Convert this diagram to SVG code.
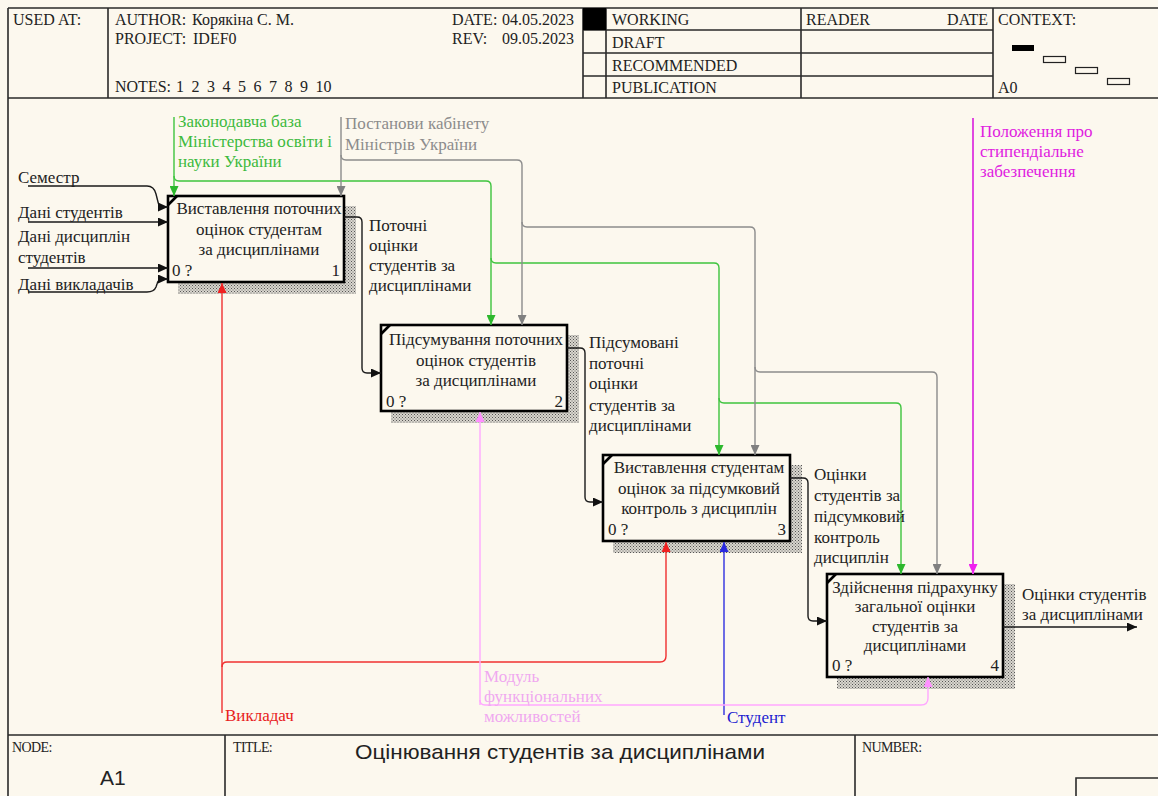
<svg xmlns="http://www.w3.org/2000/svg" width="1158" height="796" viewBox="0 0 1158 796">
  <defs>
    <style>
      .ln { fill: none; stroke: #2a2a2a; stroke-width: 1.6; }
      .hdr { font-family: 'Liberation Serif', 'Times New Roman', 'DejaVu Serif', serif; font-size: 16px; fill: #222; }
      .ft { font-family: 'Liberation Serif', 'Times New Roman', 'DejaVu Serif', serif; font-size: 14px; fill: #222; letter-spacing: -0.6px; }
      .box { fill: #FCF8EE; stroke: #000; stroke-width: 2.6; }
      .shadow { fill: url(#hatch); }
      .corner { stroke: #000; stroke-width: 2.6; }
      .bt { font-family: 'Liberation Serif', 'Times New Roman', 'DejaVu Serif', serif; font-size: 17px; fill: #222; text-anchor: middle; }
      .num { font-family: 'Liberation Serif', 'Times New Roman', 'DejaVu Serif', serif; font-size: 17px; fill: #222; }
      .lbl { font-family: 'Liberation Serif', 'Times New Roman', 'DejaVu Serif', serif; font-size: 17px; }
      .c { fill: none; stroke-width: 1.4; }
      .k { stroke: #1a1a1a; }
      .g { stroke: #3EC43E; }
      .y { stroke: #8C8C8C; }
      .m { stroke: #E048E0; stroke-width: 2; }
      .r { stroke: #F03030; }
      .b { stroke: #3030E0; }
      .p { stroke: #FFA8FF; }
    </style>
    <pattern id="hatch" width="3" height="3" patternUnits="userSpaceOnUse">
      <rect width="3" height="3" fill="#d9d6ce"/>
      <rect width="1" height="1" fill="#555"/>
      <rect x="1.5" y="1.5" width="1" height="1" fill="#666"/>
    </pattern>
    <marker id="ak" markerUnits="userSpaceOnUse" markerWidth="11" markerHeight="9" refX="10" refY="4.5" orient="auto"><path d="M0,0 L10,4.5 L0,9 z" fill="#111"/></marker>
    <marker id="ag" markerUnits="userSpaceOnUse" markerWidth="11" markerHeight="9" refX="10" refY="4.5" orient="auto"><path d="M0,0 L10,4.5 L0,9 z" fill="#2DB82D"/></marker>
    <marker id="ay" markerUnits="userSpaceOnUse" markerWidth="11" markerHeight="9" refX="10" refY="4.5" orient="auto"><path d="M0,0 L10,4.5 L0,9 z" fill="#808080"/></marker>
    <marker id="am" markerUnits="userSpaceOnUse" markerWidth="11" markerHeight="9" refX="10" refY="4.5" orient="auto"><path d="M0,0 L10,4.5 L0,9 z" fill="#F020F0"/></marker>
    <marker id="ar" markerUnits="userSpaceOnUse" markerWidth="11" markerHeight="9" refX="10" refY="4.5" orient="auto"><path d="M0,0 L10,4.5 L0,9 z" fill="#F02020"/></marker>
    <marker id="ab" markerUnits="userSpaceOnUse" markerWidth="11" markerHeight="9" refX="10" refY="4.5" orient="auto"><path d="M0,0 L10,4.5 L0,9 z" fill="#2828E0"/></marker>
    <marker id="ap" markerUnits="userSpaceOnUse" markerWidth="11" markerHeight="9" refX="10" refY="4.5" orient="auto"><path d="M0,0 L10,4.5 L0,9 z" fill="#FF90FF"/></marker>
  </defs>

  <rect width="1158" height="796" fill="#FCF8EE"/>

  <!-- header frame -->
  <g id="header">
    <path class="ln" d="M8,8 H1158 M8,8 V796 M8,98 H1158 M108,8 V98 M583,8 V98 M606,8 V98 M801,8 V98 M993,8 V98 M583,30 H993 M583,53 H993 M583,76 H993"/>
    <rect x="583" y="8" width="23" height="22" fill="#000"/>
    <text class="hdr" x="13" y="25">USED AT:</text>
    <text class="hdr" x="115" y="25">AUTHOR:</text>
    <text class="hdr" x="192" y="25">Корякіна С. М.</text>
    <text class="hdr" x="115" y="44">PROJECT:</text>
    <text class="hdr" x="193" y="44">IDEF0</text>
    <text class="hdr" x="115" y="92">NOTES:</text>
    <text class="hdr" x="176" y="92" word-spacing="3.5">1 2 3 4 5 6 7 8 9 10</text>
    <text class="hdr" x="452" y="25">DATE:</text>
    <text class="hdr" x="502" y="25">04.05.2023</text>
    <text class="hdr" x="452" y="44">REV:</text>
    <text class="hdr" x="502" y="44">09.05.2023</text>
    <text class="hdr" x="612" y="25">WORKING</text>
    <text class="hdr" x="612" y="48">DRAFT</text>
    <text class="hdr" x="612" y="71">RECOMMENDED</text>
    <text class="hdr" x="612" y="93">PUBLICATION</text>
    <text class="hdr" x="806" y="25">READER</text>
    <text class="hdr" x="988" y="25" text-anchor="end">DATE</text>
    <text class="hdr" x="998" y="25">CONTEXT:</text>
    <text class="hdr" x="998" y="93">A0</text>
    <rect x="1012" y="45" width="22" height="6" fill="#000"/>
    <rect x="1043.5" y="56.5" width="22" height="6" fill="none" stroke="#222" stroke-width="1.2"/>
    <rect x="1075.5" y="67.5" width="22" height="6" fill="none" stroke="#222" stroke-width="1.2"/>
    <rect x="1107.5" y="78.5" width="22" height="6" fill="none" stroke="#222" stroke-width="1.2"/>
  </g>

  <!-- footer frame -->
  <g id="footer">
    <path class="ln" d="M8,735 H1158 M225,735 V796 M855,735 V796 M1076,796 V778 H1158"/>
    <text class="ft" x="12" y="752">NODE:</text>
    <text class="ft" x="233" y="752">TITLE:</text>
    <text class="ft" x="862" y="752">NUMBER:</text>
    <text x="100" y="785" font-family="'Liberation Sans', Arial, sans-serif" font-size="21" fill="#222">A1</text>
    <text x="355" y="759" textLength="410" lengthAdjust="spacingAndGlyphs" font-family="'Liberation Sans', Arial, sans-serif" font-size="21" fill="#222">Оцінювання студентів за дисциплінами</text>
  </g>

  <!-- activity boxes -->
  <g id="box1">
    <rect class="shadow" x="178" y="206" width="178" height="88"/>
    <rect class="box" x="168" y="196" width="176" height="86"/>
    <line class="corner" x1="168" y1="205" x2="177" y2="196"/>
    <text class="bt" x="259" y="214">Виставлення поточних</text>
    <text class="bt" x="259" y="235">оцінок студентам</text>
    <text class="bt" x="259" y="255">за дисциплінами</text>
    <text class="num" x="172" y="276">0 ?</text>
    <text class="num" x="340" y="276" text-anchor="end">1</text>
  </g>

  <g id="box2">
    <rect class="shadow" x="391" y="335" width="188" height="88"/>
    <rect class="box" x="381" y="325" width="186" height="86"/>
    <line class="corner" x1="381" y1="334" x2="390" y2="325"/>
    <text class="bt" x="476" y="345">Підсумування поточних</text>
    <text class="bt" x="476" y="366">оцінок студентів</text>
    <text class="bt" x="476" y="386">за дисциплінами</text>
    <text class="num" x="386" y="407">0 ?</text>
    <text class="num" x="563" y="407" text-anchor="end">2</text>
  </g>

  <g id="box3">
    <rect class="shadow" x="613" y="465" width="189" height="88"/>
    <rect class="box" x="603" y="455" width="187" height="86"/>
    <line class="corner" x1="603" y1="464" x2="612" y2="455"/>
    <text class="bt" x="699" y="473">Виставлення студентам</text>
    <text class="bt" x="699" y="494">оцінок за підсумковий</text>
    <text class="bt" x="699" y="514">контроль з дисциплін</text>
    <text class="num" x="608" y="535">0 ?</text>
    <text class="num" x="786" y="535" text-anchor="end">3</text>
  </g>

  <g id="box4">
    <rect class="shadow" x="837" y="584" width="178" height="105"/>
    <rect class="box" x="827" y="574" width="176" height="103"/>
    <line class="corner" x1="827" y1="583" x2="836" y2="574"/>
    <text class="bt" x="915" y="593">Здійснення підрахунку</text>
    <text class="bt" x="915" y="612">загальної оцінки</text>
    <text class="bt" x="915" y="632">студентів за</text>
    <text class="bt" x="915" y="651">дисциплінами</text>
    <text class="num" x="832" y="671">0 ?</text>
    <text class="num" x="999" y="671" text-anchor="end">4</text>
  </g>

  <!-- connectors -->
  <g id="connectors">
    <!-- inputs of box 1 -->
    <path class="c k" marker-end="url(#ak)" d="M28,186 H147 Q154,186 156,194 L158,202 Q159,207 163,207 H168"/>
    <path class="c k" marker-end="url(#ak)" d="M28,222 H168"/>
    <path class="c k" marker-end="url(#ak)" d="M28,268 H168"/>
    <path class="c k" marker-end="url(#ak)" d="M28,292 H147 Q154,292 156,287 L157,284 Q158,279 163,279 H168"/>

    <!-- legislative base control -->
    <path class="c g" marker-end="url(#ag)" d="M174,117 V196"/>
    <path class="c g" marker-end="url(#ag)" d="M174,176 Q174,181 179,181 H486 Q491,181 491,186 V325"/>
    <path class="c g" marker-end="url(#ag)" d="M491,258 Q491,263 496,263 H714 Q719,263 719,268 V455"/>
    <path class="c g" marker-end="url(#ag)" d="M719,398 Q719,403 724,403 H896 Q901,403 901,408 V574"/>

    <!-- cabinet resolutions control -->
    <path class="c y" marker-end="url(#ay)" d="M341,117 V196"/>
    <path class="c y" marker-end="url(#ay)" d="M341,155 Q341,160 346,160 H517 Q522,160 522,165 V325"/>
    <path class="c y" marker-end="url(#ay)" d="M522,222 Q522,227 527,227 H750 Q755,227 755,232 V455"/>
    <path class="c y" marker-end="url(#ay)" d="M755,367 Q755,372 760,372 H932 Q937,372 937,377 V574"/>

    <!-- scholarship regulation control -->
    <path class="c m" marker-end="url(#am)" d="M973,118 V574"/>

    <!-- outputs -->
    <path class="c k" marker-end="url(#ak)" d="M344,217 H357 Q362,217 362,222 V368 Q362,373 367,373 H381"/>
    <path class="c k" marker-end="url(#ak)" d="M567,348 H580 Q585,348 585,353 V497 Q585,502 590,502 H603"/>
    <path class="c k" marker-end="url(#ak)" d="M790,478 H803 Q808,478 808,483 V616 Q808,621 813,621 H827"/>
    <path class="c k" marker-end="url(#ak)" d="M1003,627 H1137"/>

    <!-- mechanisms -->
    <path class="c r" marker-end="url(#ar)" d="M222,713 V283"/>
    <path class="c r" marker-end="url(#ar)" d="M222,667 Q222,662 227,662 H660 Q666,662 666,656 V542"/>
    <path class="c b" marker-end="url(#ab)" d="M724,715 V542"/>
    <path class="c p" marker-end="url(#ap)" d="M480,705 V412"/>
    <path class="c p" marker-end="url(#ap)" d="M480,700 Q480,705 485,705 H921 Q928,705 928,698 V677"/>
  </g>

  <!-- arrow labels -->
  <g id="labels" class="lbl">
    <text x="18" y="183" fill="#222">Семестр</text>
    <text x="18" y="218" fill="#222">Дані студентів</text>
    <text x="18" y="242" fill="#222">Дані дисциплін</text>
    <text x="18" y="263" fill="#222">студентів</text>
    <text x="18" y="290" fill="#222">Дані викладачів</text>

    <text x="178" y="127" fill="#3DBA3D">Законодавча база</text>
    <text x="178" y="147" fill="#3DBA3D">Міністерства освіти і</text>
    <text x="178" y="167" fill="#3DBA3D">науки України</text>

    <text x="345" y="129" fill="#8C8C8C">Постанови кабінету</text>
    <text x="345" y="150" fill="#8C8C8C">Міністрів України</text>

    <text x="980" y="137" fill="#E020E0">Положення про</text>
    <text x="980" y="157" fill="#E020E0">стипендіальне</text>
    <text x="980" y="177" fill="#E020E0">забезпечення</text>

    <text x="369" y="231" fill="#222">Поточні</text>
    <text x="369" y="251" fill="#222">оцінки</text>
    <text x="369" y="271" fill="#222">студентів за</text>
    <text x="369" y="291" fill="#222">дисциплінами</text>

    <text x="589" y="348" fill="#222">Підсумовані</text>
    <text x="589" y="369" fill="#222">поточні</text>
    <text x="589" y="389" fill="#222">оцінки</text>
    <text x="589" y="411" fill="#222">студентів за</text>
    <text x="589" y="431" fill="#222">дисциплінами</text>

    <text x="814" y="480" fill="#222">Оцінки</text>
    <text x="814" y="501" fill="#222">студентів за</text>
    <text x="814" y="522" fill="#222">підсумковий</text>
    <text x="814" y="543" fill="#222">контроль</text>
    <text x="814" y="563" fill="#222">дисциплін</text>

    <text x="1022" y="600" fill="#222">Оцінки студентів</text>
    <text x="1022" y="620" fill="#222">за дисциплінами</text>

    <text x="225" y="721" fill="#E82020">Викладач</text>
    <text x="484" y="682" fill="#F0A8F0">Модуль</text>
    <text x="484" y="702" fill="#F0A8F0">функціональних</text>
    <text x="484" y="722" fill="#F0A8F0">можливостей</text>
    <text x="727" y="723" fill="#2020D0">Студент</text>
  </g>
</svg>
